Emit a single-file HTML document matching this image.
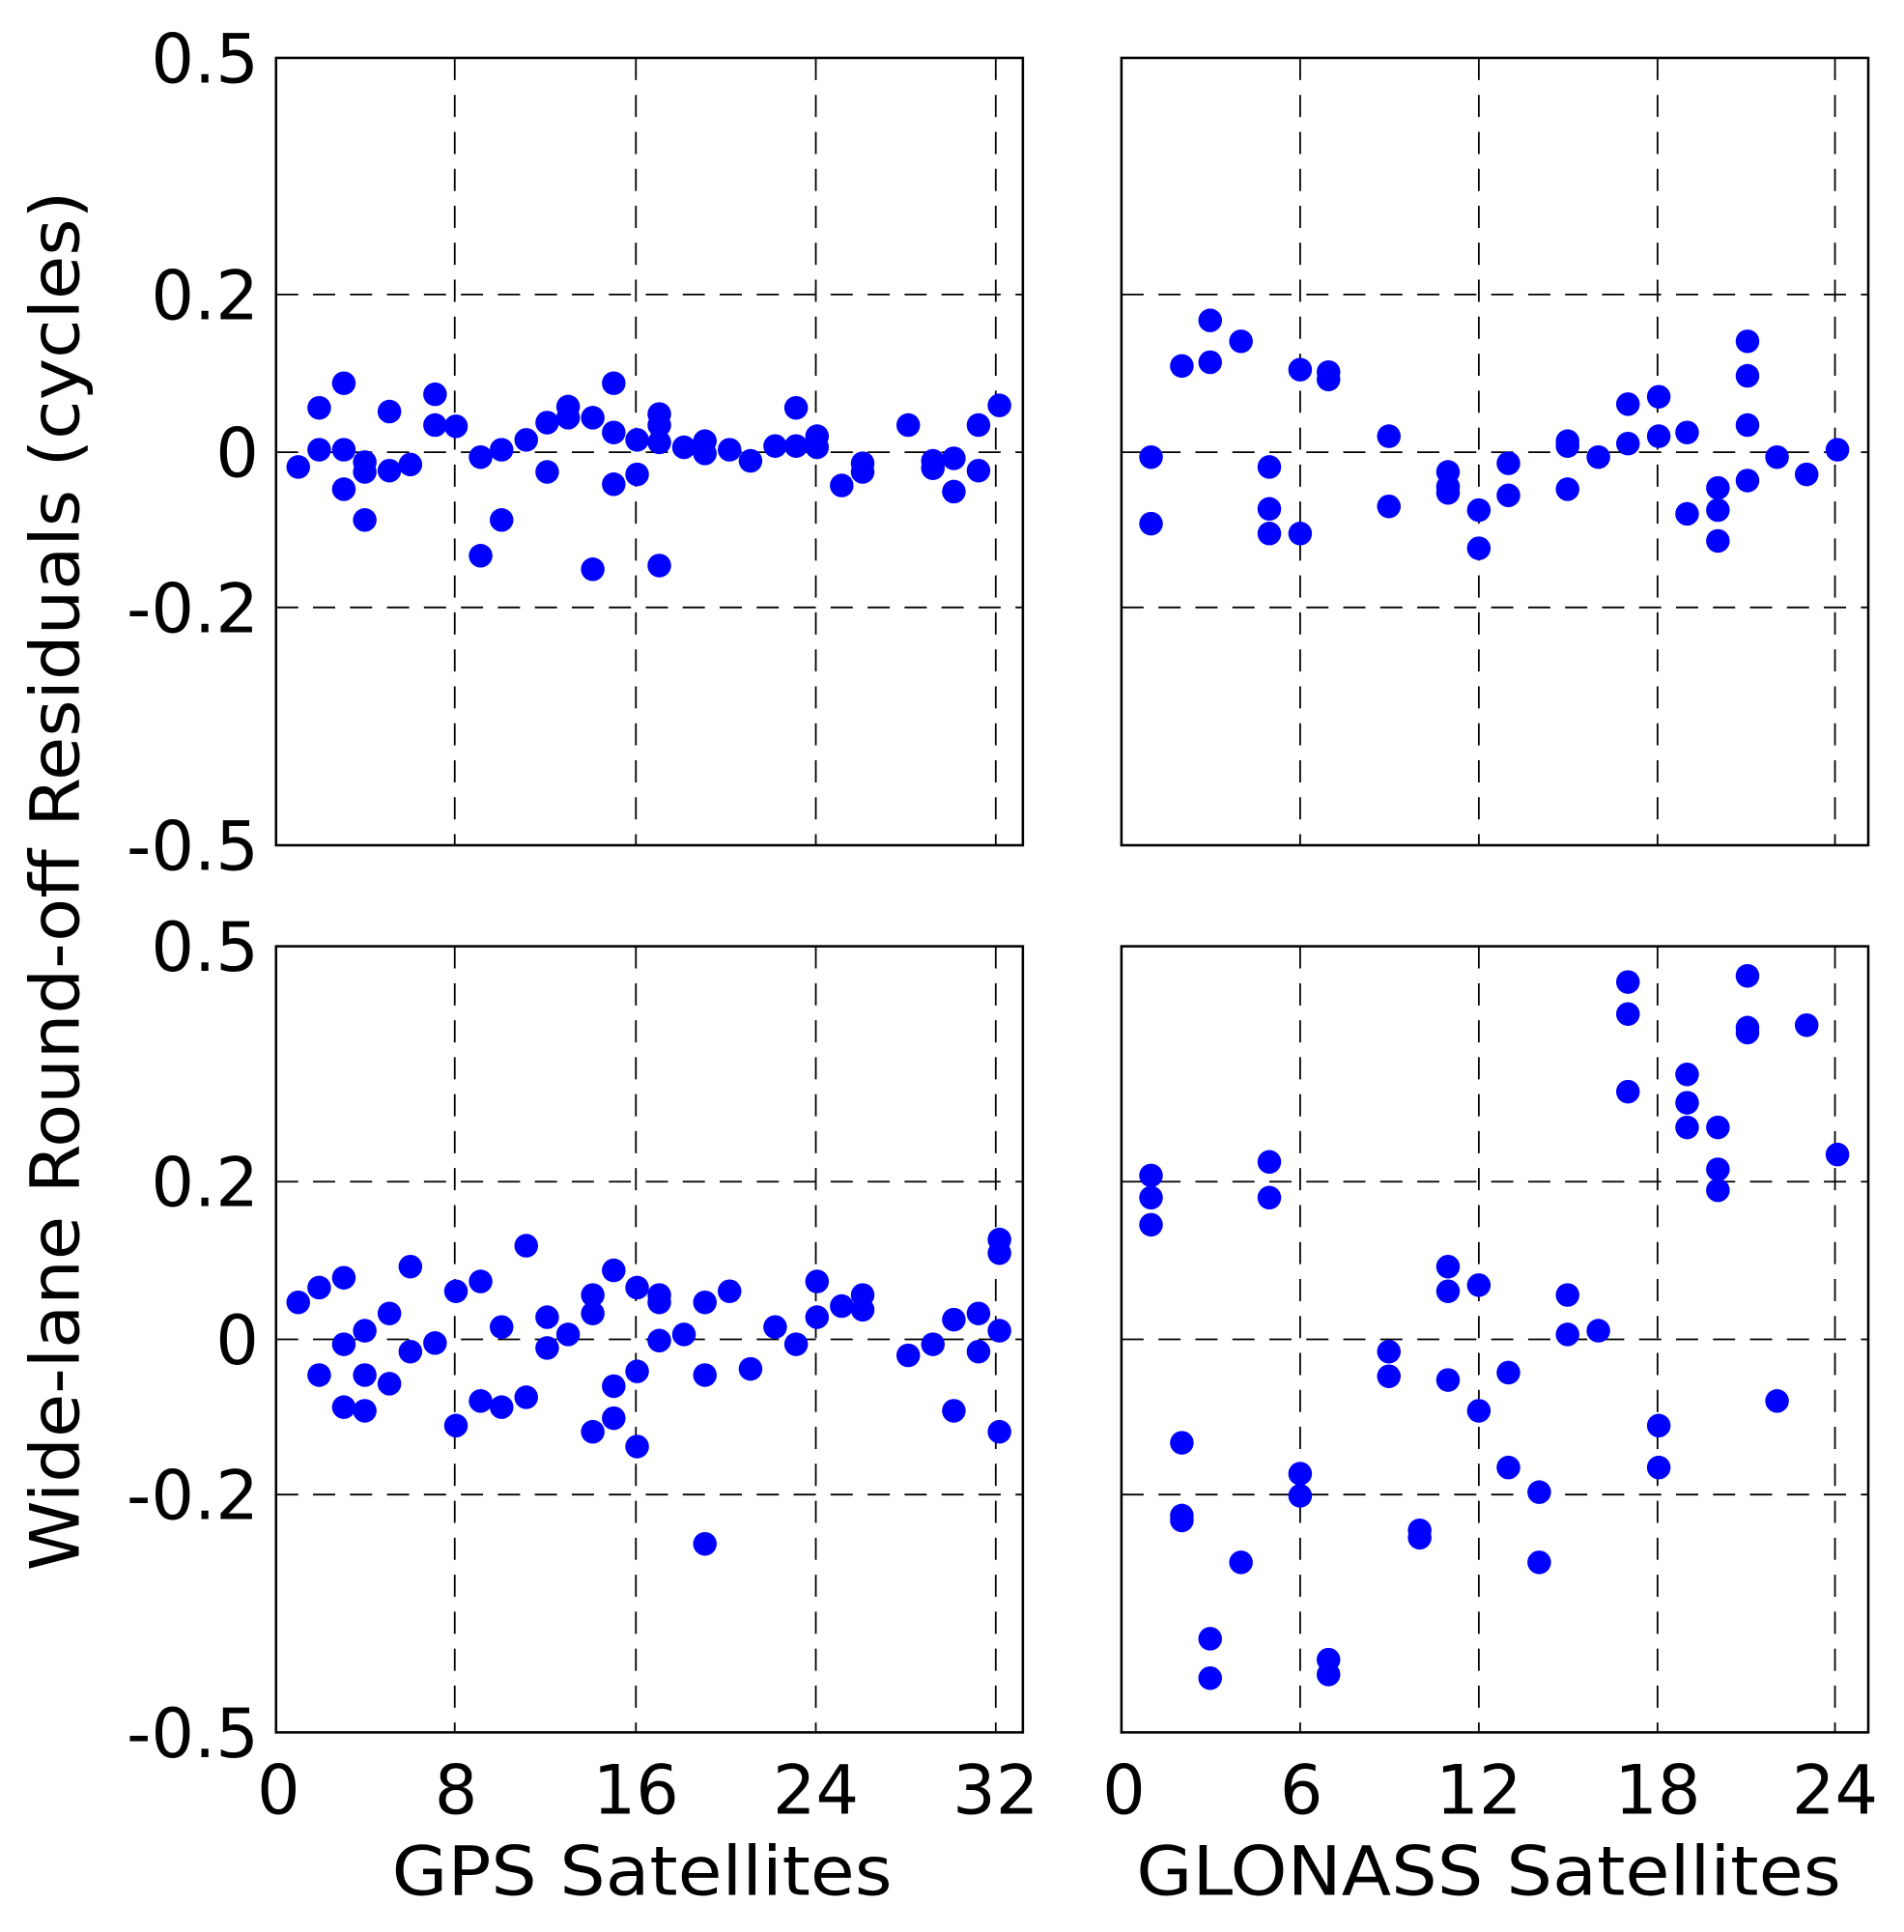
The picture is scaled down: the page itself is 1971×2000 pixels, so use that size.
<!DOCTYPE html>
<html><head><meta charset="utf-8"><style>html,body{margin:0;padding:0;background:#fff}svg{display:block}</style></head>
<body>
<svg width="1971" height="2000" viewBox="0 0 1545 1568" preserveAspectRatio="none" xmlns="http://www.w3.org/2000/svg" font-family="'DejaVu Sans', 'Liberation Sans', sans-serif">
<g stroke="#000" stroke-width="1.4" stroke-dasharray="18 12" fill="none">
<path d="M224 239H830M224 367H830M224 493H830M910 239H1516M910 367H1516M910 493H1516"/>
<path d="M224 959H830M224 1087H830M224 1213H830M910 959H1516M910 1087H1516M910 1213H1516"/>
<path d="M369 47V686M516 47V686M662 47V686M808 47V686M1055 47V686M1200 47V686M1345 47V686M1489 47V686"/>
<path d="M369 768V1406M516 768V1406M662 768V1406M808 768V1406M1055 768V1406M1200 768V1406M1345 768V1406M1489 768V1406"/>
</g>
<g stroke="#000" stroke-width="2" fill="none">
<rect x="224" y="47" width="606" height="639"/><rect x="910" y="47" width="606" height="639"/>
<rect x="224" y="768" width="606" height="638"/><rect x="910" y="768" width="606" height="638"/>
</g>
<g fill="#0000ff">
<circle cx="242" cy="379" r="9.6"/><circle cx="259" cy="331" r="9.6"/><circle cx="259" cy="365" r="9.6"/><circle cx="279" cy="311" r="9.6"/><circle cx="279" cy="365" r="9.6"/><circle cx="279" cy="397" r="9.6"/><circle cx="296" cy="375" r="9.6"/><circle cx="296" cy="383" r="9.6"/><circle cx="296" cy="422" r="9.6"/><circle cx="316" cy="334" r="9.6"/><circle cx="316" cy="382" r="9.6"/><circle cx="333" cy="377" r="9.6"/><circle cx="353" cy="320" r="9.6"/><circle cx="353" cy="345" r="9.6"/><circle cx="370" cy="346" r="9.6"/><circle cx="390" cy="451" r="9.6"/><circle cx="390" cy="371" r="9.6"/><circle cx="407" cy="365" r="9.6"/><circle cx="407" cy="422" r="9.6"/><circle cx="427" cy="357" r="9.6"/><circle cx="444" cy="383" r="9.6"/><circle cx="444" cy="343" r="9.6"/><circle cx="461" cy="330" r="9.6"/><circle cx="461" cy="339" r="9.6"/><circle cx="481" cy="339" r="9.6"/><circle cx="481" cy="462" r="9.6"/><circle cx="498" cy="311" r="9.6"/><circle cx="498" cy="351" r="9.6"/><circle cx="498" cy="393" r="9.6"/><circle cx="517" cy="357" r="9.6"/><circle cx="517" cy="385" r="9.6"/><circle cx="535" cy="336" r="9.6"/><circle cx="535" cy="345" r="9.6"/><circle cx="535" cy="359" r="9.6"/><circle cx="535" cy="459" r="9.6"/><circle cx="555" cy="363" r="9.6"/><circle cx="572" cy="358" r="9.6"/><circle cx="572" cy="368" r="9.6"/><circle cx="592" cy="365" r="9.6"/><circle cx="609" cy="374" r="9.6"/><circle cx="629" cy="362" r="9.6"/><circle cx="646" cy="331" r="9.6"/><circle cx="646" cy="362" r="9.6"/><circle cx="663" cy="354" r="9.6"/><circle cx="663" cy="363" r="9.6"/><circle cx="683" cy="394" r="9.6"/><circle cx="700" cy="376" r="9.6"/><circle cx="700" cy="383" r="9.6"/><circle cx="737" cy="345" r="9.6"/><circle cx="757" cy="374" r="9.6"/><circle cx="757" cy="380" r="9.6"/><circle cx="774" cy="372" r="9.6"/><circle cx="774" cy="399" r="9.6"/><circle cx="794" cy="345" r="9.6"/><circle cx="794" cy="382" r="9.6"/><circle cx="811" cy="329" r="9.6"/>
<circle cx="934" cy="371" r="9.6"/><circle cx="934" cy="425" r="9.6"/><circle cx="959" cy="297" r="9.6"/><circle cx="982" cy="260" r="9.6"/><circle cx="982" cy="294" r="9.6"/><circle cx="1007" cy="277" r="9.6"/><circle cx="1030" cy="379" r="9.6"/><circle cx="1030" cy="413" r="9.6"/><circle cx="1030" cy="433" r="9.6"/><circle cx="1055" cy="300" r="9.6"/><circle cx="1055" cy="433" r="9.6"/><circle cx="1078" cy="302" r="9.6"/><circle cx="1078" cy="308" r="9.6"/><circle cx="1127" cy="354" r="9.6"/><circle cx="1127" cy="411" r="9.6"/><circle cx="1175" cy="383" r="9.6"/><circle cx="1175" cy="395" r="9.6"/><circle cx="1175" cy="400" r="9.6"/><circle cx="1200" cy="414" r="9.6"/><circle cx="1200" cy="445" r="9.6"/><circle cx="1224" cy="376" r="9.6"/><circle cx="1224" cy="402" r="9.6"/><circle cx="1272" cy="358" r="9.6"/><circle cx="1272" cy="362" r="9.6"/><circle cx="1272" cy="397" r="9.6"/><circle cx="1297" cy="371" r="9.6"/><circle cx="1321" cy="328" r="9.6"/><circle cx="1321" cy="360" r="9.6"/><circle cx="1346" cy="322" r="9.6"/><circle cx="1346" cy="354" r="9.6"/><circle cx="1369" cy="351" r="9.6"/><circle cx="1369" cy="417" r="9.6"/><circle cx="1394" cy="396" r="9.6"/><circle cx="1394" cy="414" r="9.6"/><circle cx="1394" cy="439" r="9.6"/><circle cx="1418" cy="277" r="9.6"/><circle cx="1418" cy="305" r="9.6"/><circle cx="1418" cy="345" r="9.6"/><circle cx="1418" cy="390" r="9.6"/><circle cx="1442" cy="371" r="9.6"/><circle cx="1466" cy="385" r="9.6"/><circle cx="1491" cy="365" r="9.6"/>
<circle cx="242" cy="1057" r="9.6"/><circle cx="259" cy="1045" r="9.6"/><circle cx="259" cy="1116" r="9.6"/><circle cx="279" cy="1037" r="9.6"/><circle cx="279" cy="1091" r="9.6"/><circle cx="279" cy="1142" r="9.6"/><circle cx="296" cy="1080" r="9.6"/><circle cx="296" cy="1116" r="9.6"/><circle cx="296" cy="1145" r="9.6"/><circle cx="316" cy="1066" r="9.6"/><circle cx="316" cy="1123" r="9.6"/><circle cx="333" cy="1028" r="9.6"/><circle cx="333" cy="1097" r="9.6"/><circle cx="353" cy="1090" r="9.6"/><circle cx="370" cy="1048" r="9.6"/><circle cx="370" cy="1157" r="9.6"/><circle cx="390" cy="1040" r="9.6"/><circle cx="390" cy="1137" r="9.6"/><circle cx="407" cy="1077" r="9.6"/><circle cx="407" cy="1142" r="9.6"/><circle cx="427" cy="1011" r="9.6"/><circle cx="427" cy="1134" r="9.6"/><circle cx="444" cy="1069" r="9.6"/><circle cx="444" cy="1094" r="9.6"/><circle cx="461" cy="1083" r="9.6"/><circle cx="481" cy="1051" r="9.6"/><circle cx="481" cy="1066" r="9.6"/><circle cx="481" cy="1162" r="9.6"/><circle cx="498" cy="1031" r="9.6"/><circle cx="498" cy="1125" r="9.6"/><circle cx="498" cy="1151" r="9.6"/><circle cx="517" cy="1045" r="9.6"/><circle cx="517" cy="1113" r="9.6"/><circle cx="517" cy="1174" r="9.6"/><circle cx="535" cy="1051" r="9.6"/><circle cx="535" cy="1057" r="9.6"/><circle cx="535" cy="1088" r="9.6"/><circle cx="555" cy="1083" r="9.6"/><circle cx="572" cy="1057" r="9.6"/><circle cx="572" cy="1116" r="9.6"/><circle cx="572" cy="1253" r="9.6"/><circle cx="592" cy="1048" r="9.6"/><circle cx="609" cy="1111" r="9.6"/><circle cx="629" cy="1077" r="9.6"/><circle cx="646" cy="1091" r="9.6"/><circle cx="663" cy="1040" r="9.6"/><circle cx="663" cy="1069" r="9.6"/><circle cx="683" cy="1060" r="9.6"/><circle cx="700" cy="1051" r="9.6"/><circle cx="700" cy="1063" r="9.6"/><circle cx="737" cy="1100" r="9.6"/><circle cx="757" cy="1091" r="9.6"/><circle cx="774" cy="1071" r="9.6"/><circle cx="774" cy="1145" r="9.6"/><circle cx="794" cy="1066" r="9.6"/><circle cx="794" cy="1097" r="9.6"/><circle cx="811" cy="1006" r="9.6"/><circle cx="811" cy="1017" r="9.6"/><circle cx="811" cy="1080" r="9.6"/><circle cx="811" cy="1162" r="9.6"/>
<circle cx="934" cy="954" r="9.6"/><circle cx="934" cy="972" r="9.6"/><circle cx="934" cy="994" r="9.6"/><circle cx="959" cy="1171" r="9.6"/><circle cx="959" cy="1230" r="9.6"/><circle cx="959" cy="1234" r="9.6"/><circle cx="982" cy="1330" r="9.6"/><circle cx="982" cy="1362" r="9.6"/><circle cx="1007" cy="1268" r="9.6"/><circle cx="1030" cy="943" r="9.6"/><circle cx="1030" cy="972" r="9.6"/><circle cx="1055" cy="1196" r="9.6"/><circle cx="1055" cy="1214" r="9.6"/><circle cx="1078" cy="1347" r="9.6"/><circle cx="1078" cy="1359" r="9.6"/><circle cx="1127" cy="1097" r="9.6"/><circle cx="1127" cy="1117" r="9.6"/><circle cx="1152" cy="1242" r="9.6"/><circle cx="1152" cy="1248" r="9.6"/><circle cx="1175" cy="1028" r="9.6"/><circle cx="1175" cy="1048" r="9.6"/><circle cx="1175" cy="1120" r="9.6"/><circle cx="1200" cy="1043" r="9.6"/><circle cx="1200" cy="1145" r="9.6"/><circle cx="1224" cy="1114" r="9.6"/><circle cx="1224" cy="1191" r="9.6"/><circle cx="1249" cy="1211" r="9.6"/><circle cx="1249" cy="1268" r="9.6"/><circle cx="1272" cy="1051" r="9.6"/><circle cx="1272" cy="1083" r="9.6"/><circle cx="1297" cy="1080" r="9.6"/><circle cx="1321" cy="797" r="9.6"/><circle cx="1321" cy="823" r="9.6"/><circle cx="1321" cy="886" r="9.6"/><circle cx="1346" cy="1157" r="9.6"/><circle cx="1346" cy="1191" r="9.6"/><circle cx="1369" cy="872" r="9.6"/><circle cx="1369" cy="895" r="9.6"/><circle cx="1369" cy="915" r="9.6"/><circle cx="1394" cy="915" r="9.6"/><circle cx="1394" cy="949" r="9.6"/><circle cx="1394" cy="966" r="9.6"/><circle cx="1418" cy="792" r="9.6"/><circle cx="1418" cy="834" r="9.6"/><circle cx="1418" cy="838" r="9.6"/><circle cx="1442" cy="1137" r="9.6"/><circle cx="1466" cy="832" r="9.6"/><circle cx="1491" cy="937" r="9.6"/>
</g>
<g font-size="55" text-anchor="end" fill="#000">
<text x="210" y="67">0.5</text><text x="210" y="259">0.2</text><text x="210" y="387">0</text><text x="210" y="513">-0.2</text><text x="210" y="706">-0.5</text>
<text x="210" y="788">0.5</text><text x="210" y="979">0.2</text><text x="210" y="1107">0</text><text x="210" y="1233">-0.2</text><text x="210" y="1426">-0.5</text>
</g>
<g font-size="55" text-anchor="middle" fill="#000">
<text x="226" y="1472">0</text><text x="370" y="1472">8</text><text x="516" y="1472">16</text><text x="662" y="1472">24</text><text x="808" y="1472">32</text>
<text x="912" y="1472">0</text><text x="1056" y="1472">6</text><text x="1200" y="1472">12</text><text x="1345" y="1472">18</text><text x="1489" y="1472">24</text>
<text x="521" y="1538" textLength="406" lengthAdjust="spacingAndGlyphs">GPS Satellites</text>
<text x="1208" y="1538" textLength="572" lengthAdjust="spacingAndGlyphs">GLONASS Satellites</text>
<text transform="translate(64 715) rotate(-90)" textLength="1120" lengthAdjust="spacingAndGlyphs">Wide-lane Round-off Residuals (cycles)</text>
</g>
</svg>
</body></html>
